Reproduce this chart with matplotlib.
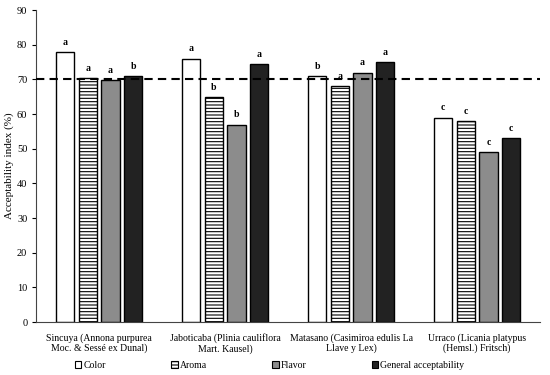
import numpy as np
import matplotlib.pyplot as plt
from matplotlib.patches import Patch

plt.rcParams['font.family'] = ['Liberation Serif', 'DejaVu Serif']
plt.rcParams['hatch.linewidth'] = 0.8

# 果物の名前（2行ラベル）
fruits = [
    "Sincuya (Annona purpurea\nMoc. & Sessé ex Dunal)",
    "Jaboticaba (Plinia cauliflora\nMart. Kausel)",
    "Matasano (Casimiroa edulis La\nLlave y Lex)",
    "Urraco (Licania platypus\n(Hemsl.) Fritsch)",
]
attributes = ["Color", "Aroma", "Flavor", "General acceptability"]

color_vals = [78.0, 76.0, 71.0, 59.0]
aroma_vals = [70.5, 65.0, 68.0, 58.0]
flavor_vals = [69.8, 57.0, 72.0, 49.0]
general_vals = [71.0, 74.5, 75.0, 53.0]

color_letters = ["a", "a", "b", "c"]
aroma_letters = ["a", "b", "a", "c"]
flavor_letters = ["a", "b", "a", "c"]
general_letters = ["b", "a", "a", "c"]

threshold = 70

series = [color_vals, aroma_vals, flavor_vals, general_vals]
letters = [color_letters, aroma_letters, flavor_letters, general_letters]
faces = ["white", "white", "#8c8c8c", "#222222"]
hatches = [None, "-----", None, None]

fig = plt.figure(figsize=(5.5, 3.75), dpi=100)
ax = fig.add_axes([0.066, 0.141, 0.916, 0.832])

x = np.arange(len(fruits))
width = 0.145
step = 0.18
offsets = (np.arange(4) - 1.5) * step

for i in range(4):
    bars = ax.bar(x + offsets[i], series[i], width, color=faces[i],
                  edgecolor="black", linewidth=1.0, hatch=hatches[i],
                  label=attributes[i], zorder=2)
    for b, lab in zip(bars, letters[i]):
        ax.text(b.get_x() + b.get_width() / 2, b.get_height() + 1.5, lab,
                ha="center", va="bottom", fontsize=7, fontweight="bold")

ax.axhline(threshold, color="black", linestyle=(0, (4, 2.5)), linewidth=1.5, zorder=3)

ax.set_xlim(-0.5, 3.5)
ax.set_ylim(0, 90)
ax.set_yticks(np.arange(0, 91, 10))
ax.set_xticks(x)
ax.set_xticklabels(fruits, fontsize=7, linespacing=1.1)
ax.tick_params(axis="y", labelsize=7.5, length=3, width=0.8)
ax.tick_params(axis="x", length=0, pad=8)
ax.set_ylabel("Acceptability index (%)", fontsize=8, labelpad=2)
for s in ["top", "right"]:
    ax.spines[s].set_visible(False)
for s in ["left", "bottom"]:
    ax.spines[s].set_linewidth(0.8)
    ax.spines[s].set_color("#444444")

handles = [Patch(facecolor=faces[i], edgecolor="black", hatch=hatches[i], linewidth=0.8)
           for i in range(4)]
fig.legend(handles, attributes, loc="lower center", ncol=4, frameon=False,
           fontsize=7, bbox_to_anchor=(0.49, -0.01), handlelength=0.7, handleheight=0.7,
           handletextpad=0.2, columnspacing=6.7)

fig.savefig("out.png", dpi=100)
